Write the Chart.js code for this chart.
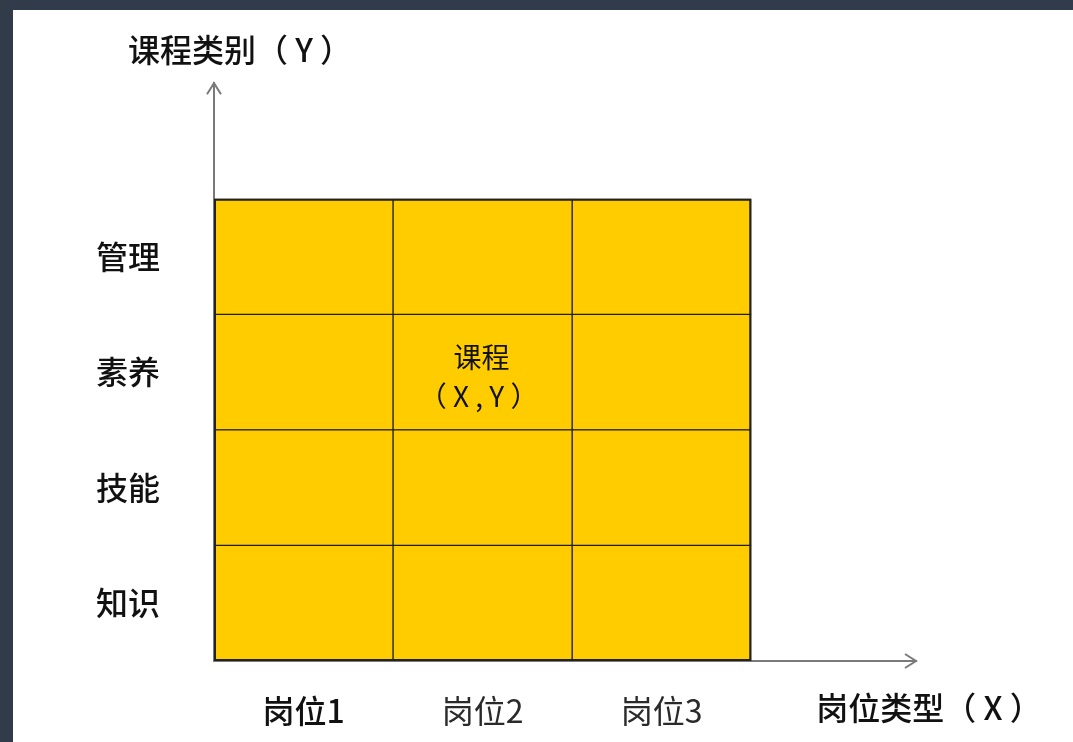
<!DOCTYPE html>
<html>
<head>
<meta charset="utf-8">
<script src="https://cdn.jsdelivr.net/npm/chart.js@4/dist/chart.umd.min.js"></script>
<style>
    body { margin: 0; background: #313b49; width: 1073px; height: 742px; overflow: hidden; }
    #box { position: absolute; left: 13px; top: 10px; width: 1060px; height: 732px; background: #fff; }
</style>
</head>
<body>
<div id="box"><canvas id="matrixChart"></canvas></div>
<script>
    // 岗位 (x) and 课程类别 (y), bottom row first
    var positions = ['岗位1', '岗位2', '岗位3'];
    var courseTypes = ['知识', '技能', '素养', '管理'];
    var cellValues = [1, 1, 1];
    var noteCell = { x: 1, y: 2, lines: ['课程', '（ X , Y ）'] };
    var xTitle = '岗位类型（ X ）';
    var yTitle = '课程类别（ Y ）';

    var cjk = "'Noto Sans CJK SC', 'Noto Sans', sans-serif";

    var datasets = courseTypes.map(function (name) {
        return {
            label: name,
            data: cellValues.map(function (v, i) { return { x: i + 0.5, y: v }; }),
            backgroundColor: '#ffcc00',
            borderColor: '#1e1e1e',
            borderWidth: 1,
            borderSkipped: false,
            barPercentage: 1,
            categoryPercentage: 1
        };
    });

    var extras = {
        id: 'extras',
        afterDraw: function (chart) {
            var ctx = chart.ctx, a = chart.chartArea;
            var xs = chart.scales.x, ys = chart.scales.y;
            ctx.save();
            // arrow heads
            ctx.strokeStyle = '#7a7a7a';
            ctx.lineWidth = 2;
            ctx.beginPath();
            ctx.moveTo(a.left - 7, a.top + 11); ctx.lineTo(a.left, a.top); ctx.lineTo(a.left + 7, a.top + 11);
            ctx.moveTo(a.right - 11, a.bottom - 7); ctx.lineTo(a.right, a.bottom); ctx.lineTo(a.right - 11, a.bottom + 7);
            ctx.stroke();
            // outer frame a bit darker
            ctx.strokeStyle = '#222';
            ctx.lineWidth = 2;
            ctx.strokeRect(xs.getPixelForValue(0) + 1, ys.getPixelForValue(courseTypes.length) + 1,
                xs.getPixelForValue(positions.length) - xs.getPixelForValue(0) - 2,
                ys.getPixelForValue(0) - ys.getPixelForValue(courseTypes.length) - 2);
            // axis titles
            ctx.fillStyle = '#111';
            ctx.textAlign = 'center';
            ctx.textBaseline = 'middle';
            ctx.font = '500 32px ' + cjk;
            ctx.fillText(yTitle, a.left + 26, a.top - 33);
            ctx.fillText(xTitle, a.right + 13, a.bottom + 47);
            // note inside the cell
            ctx.font = '28px ' + cjk;
            var cx = xs.getPixelForValue(noteCell.x + 0.5);
            var cy = ys.getPixelForValue(noteCell.y + 0.5);
            ctx.fillText(noteCell.lines[0], cx - 1, cy - 15);
            ctx.fillText(noteCell.lines[1], cx - 4, cy + 24);
            ctx.restore();
        }
    };

    new Chart(document.getElementById('matrixChart').getContext('2d'), {
        type: 'bar',
        data: { datasets: datasets },
        options: {
            responsive: true,
            maintainAspectRatio: false,
            animation: false,
            layout: { padding: { left: 0, right: 157, top: 72, bottom: 0 } },
            plugins: { legend: { display: false }, tooltip: { enabled: false } },
            scales: {
                x: {
                    type: 'linear',
                    stacked: true,
                    offset: false,
                    min: 0,
                    max: 3.92,
                    grid: { display: false, drawTicks: false },
                    border: { display: true, color: '#7a7a7a', width: 2 },
                    afterBuildTicks: function (scale) {
                        scale.ticks = positions.map(function (p, i) { return { value: i + 0.5 }; });
                    },
                    afterFit: function (scale) { scale.height = 81; },
                    ticks: {
                        padding: 31,
                        autoSkip: false,
                        maxRotation: 0,
                        callback: function (value, index) { return positions[index]; },
                        color: function (c) { return c.index === 0 ? '#111' : '#2a2a2a'; },
                        font: function (c) {
                            return { family: cjk, size: 32, weight: c.index === 0 ? '500' : 'normal' };
                        }
                    }
                },
                y: {
                    stacked: true,
                    min: 0,
                    max: 5,
                    grid: { display: false, drawTicks: false },
                    border: { display: true, color: '#7a7a7a', width: 2 },
                    afterBuildTicks: function (scale) {
                        scale.ticks = courseTypes.map(function (c, i) { return { value: i + 0.5 }; });
                    },
                    afterFit: function (scale) { scale.width = 201; },
                    ticks: {
                        padding: 54,
                        autoSkip: false,
                        callback: function (value, index) { return courseTypes[index]; },
                        color: '#111',
                        font: { family: cjk, size: 32, weight: '500' }
                    }
                }
            }
        },
        plugins: [extras]
    });
</script>
</body>
</html>
